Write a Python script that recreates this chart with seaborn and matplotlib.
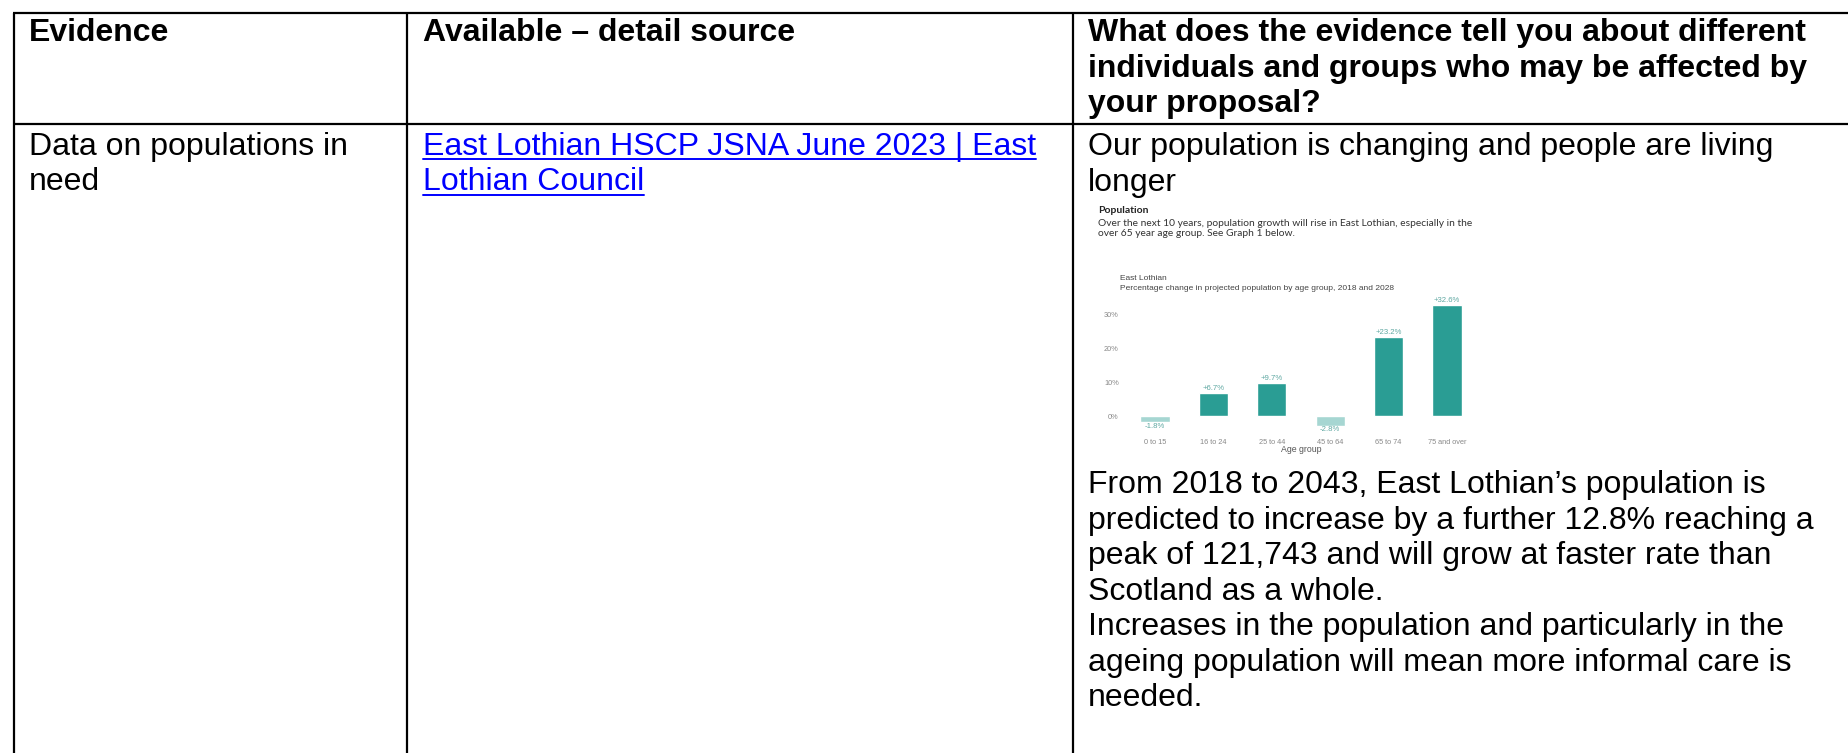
import matplotlib
matplotlib.use("Agg")
import matplotlib.pyplot as plt
import seaborn as sns
import pandas as pd
from matplotlib.lines import Line2D

# ---------------- data ----------------
age_groups = ["0 to 15", "16 to 24", "25 to 44", "45 to 64", "65 to 74", "75 and over"]
pct_change = [-1.8, 6.7, 9.7, -2.8, 23.2, 32.6]
y_ticks = [0, 10, 20, 30]
y_tick_labels = ["0%", "10%", "20%", "30%"]

header = ["Evidence", "Available \u2013 detail source",
          ["What does the evidence tell you about different",
           "individuals and groups who may be affected by",
           "your proposal?"]]
col1_lines = ["Data on populations in", "need"]
link_lines = ["East Lothian HSCP JSNA June 2023 | East", "Lothian Council"]
col3_intro = ["Our population is changing and people are living", "longer"]
col3_after = ["From 2018 to 2043, East Lothian\u2019s population is",
              "predicted to increase by a further 12.8% reaching a",
              "peak of 121,743 and will grow at faster rate than",
              "Scotland as a whole.",
              "Increases in the population and particularly in the",
              "ageing population will mean more informal care is",
              "needed."]
img_heading = "Population"
img_para = ["Over the next 10 years, population growth will rise in East Lothian, especially in the",
            "over 65 year age group. See Graph 1 below."]
chart_title = ["East Lothian", "Percentage change in projected population by age group, 2018 and 2028"]
x_label = "Age group"

# ---------------- figure ----------------
sns.set_theme(style="white")
plt.rcParams['font.family'] = ['Liberation Sans', 'DejaVu Sans']
W, H = 1849, 753
fig = plt.figure(figsize=(W / 100, H / 100), dpi=100)
fig.patch.set_facecolor("white")

def fx(x):
    return x / W

def fy(y):
    return 1 - y / H

BODY = 23.0
LS = 35.5

def ptext(x, y, s, **kw):
    return fig.text(fx(x), fy(y), s, va="baseline", ha="left", **kw)

# table lines
lw = 1.6
for (x0, y0, x1, y1) in [(13, 13, W, 13), (13, 124, W, 124),
                         (14, 13, 14, H), (407, 13, 407, H), (1073, 13, 1073, H)]:
    fig.add_artist(Line2D([fx(x0), fx(x1)], [fy(y0), fy(y1)], color="black",
                          lw=lw, transform=fig.transFigure, solid_capstyle="butt"))

# header
HB = 41
ptext(29, HB, header[0], fontsize=BODY, fontweight="bold", color="black")
ptext(423, HB, header[1], fontsize=BODY, fontweight="bold", color="black")
for i, s in enumerate(header[2]):
    ptext(1088, HB + i * LS, s, fontsize=BODY, fontweight="bold", color="black")

# row 2
for i, s in enumerate(col1_lines):
    ptext(29, 155 + i * LS, s, fontsize=BODY, color="black")
link_texts = []
for i, s in enumerate(link_lines):
    link_texts.append((ptext(423, 155 + i * LS, s, fontsize=BODY, color="#0000FF"), 155 + i * LS))
for i, s in enumerate(col3_intro):
    ptext(1088, 155 + i * LS, s, fontsize=BODY, color="black")
for i, s in enumerate(col3_after):
    ptext(1088, 493 + i * LS, s, fontsize=BODY, color="black")

# underline links
fig.canvas.draw()
r = fig.canvas.get_renderer()
for t, yb in link_texts:
    bb = t.get_window_extent(renderer=r)
    fig.add_artist(Line2D([bb.x0 / W, bb.x1 / W], [fy(yb + 4), fy(yb + 4)], color="#0000FF",
                          lw=1.4, transform=fig.transFigure))

# embedded image texts
small = ['Lato', 'DejaVu Sans']
ptext(1098, 213, img_heading, fontsize=7.5, fontweight="bold", color="#222222", family=small)
for i, s in enumerate(img_para):
    ptext(1098, 226 + i * 10.5, s, fontsize=7.35, color="#333333", family=small)
ptext(1120, 280, chart_title[0], fontsize=6.0, color="#444444")
ptext(1120, 290, chart_title[1], fontsize=6.0, color="#444444")

# ---------------- bar chart ----------------
unit = 58.4
c0 = 1155
left_px = c0 - 0.5 * unit
right_px = c0 + 5.5 * unit
ymin, ymax = -4, 35
zero_px, per = 416, 3.4
bot_px = zero_px - ymin * per
top_px = zero_px - ymax * per
ax = fig.add_axes([fx(left_px), fy(bot_px), fx(right_px - left_px), (bot_px - top_px) / H])

df = pd.DataFrame({"age": age_groups, "pct": pct_change})
df["sign"] = ["neg" if v < 0 else "pos" for v in pct_change]
sns.barplot(data=df, x="age", y="pct", hue="sign", dodge=False, width=0.5,
            palette={"pos": "#2a9d94", "neg": "#a6d6d2"}, legend=False, ax=ax,
            order=age_groups, saturation=1)
ax.set_xlim(-0.5, 5.5)
ax.set_ylim(ymin, ymax)
ax.set_yticks(y_ticks)
ax.set_yticklabels(y_tick_labels)
for s in ax.spines.values():
    s.set_visible(False)
ax.tick_params(axis="both", length=0, labelsize=5.3, labelcolor="#888888")
ax.tick_params(axis="x", pad=6.5)
ax.tick_params(axis="y", pad=5)
ax.set_ylabel("")
ax.set_xlabel(x_label, fontsize=6.3, color="#555555", labelpad=-0.5)
ax.set_facecolor("white")

for i, v in enumerate(pct_change):
    lab = f"{v:+.1f}%"
    if v >= 0:
        ax.annotate(lab, (i, v), xytext=(0, 0.8), textcoords="offset points",
                    ha="center", va="bottom", fontsize=5.6, color="#5fa8a2")
    else:
        ax.annotate(lab, (i, v), xytext=(0, -0.3), textcoords="offset points",
                    ha="center", va="top", fontsize=5.6, color="#5fa8a2")

fig.savefig("out.png", dpi=100, facecolor="white")
